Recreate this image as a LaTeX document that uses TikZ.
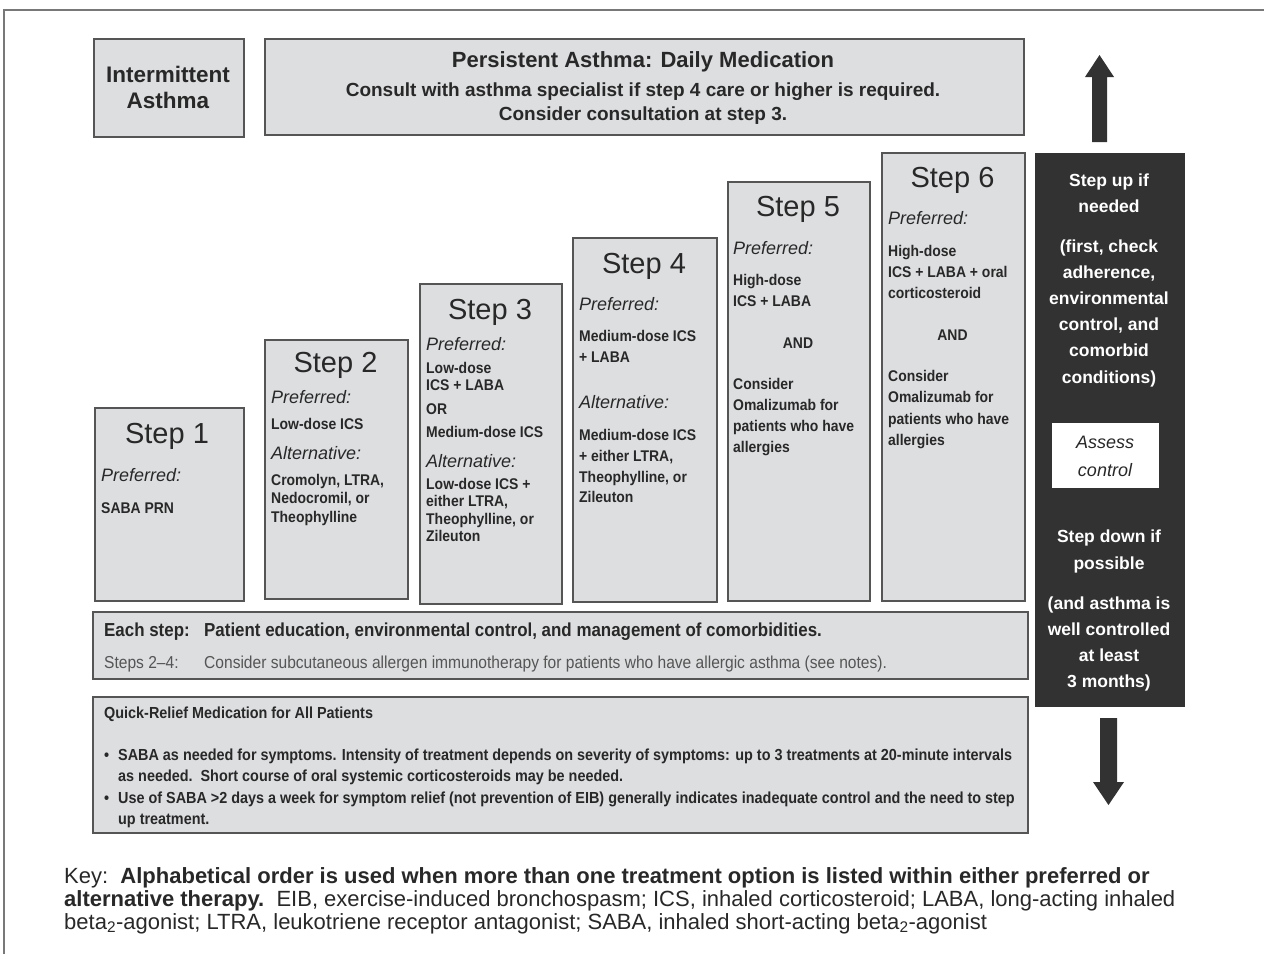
\documentclass[tikz,border=0pt]{standalone}
\usepackage{fontspec}
\setmainfont{Liberation Sans}
\newfontfamily\nfa[FakeStretch=0.9]{Liberation Sans}
\newfontfamily\nfc[FakeStretch=0.82]{Liberation Sans}
\definecolor{boxfill}{RGB}{221,222,224}
\definecolor{boxline}{RGB}{85,85,85}
\definecolor{txt}{RGB}{40,40,40}
\definecolor{darkbox}{RGB}{50,50,50}
\definecolor{frame}{RGB}{120,120,120}
\definecolor{lighttxt}{RGB}{85,85,85}
\tikzset{
  box/.style={draw=boxline, fill=boxfill, line width=1.5pt, inner sep=0pt, anchor=north west},
  tx/.style={inner sep=0pt, text=txt, font={\nfa\bfseries\fontsize{15.5}{18}\selectfont}},
  pref/.style={inner sep=0pt, text=txt, font={\itshape\fontsize{18}{20}\selectfont}},
  steptitle/.style={inner sep=0pt, text=txt, anchor=base, font={\fontsize{29}{32}\selectfont}},
  head/.style={inner sep=0pt, text=txt, anchor=base, font={\bfseries\fontsize{22}{26}\selectfont}},
  sub/.style={inner sep=0pt, text=txt, anchor=base, font={\bfseries\fontsize{19}{22}\selectfont}},
  wt/.style={inner sep=0pt, text=white, anchor=base, font={\bfseries\fontsize{17.5}{20}\selectfont}},
  qr/.style={inner sep=0pt, text=txt, anchor=base west, font={\nfa\bfseries\fontsize{16}{18}\selectfont}},
  key/.style={inner sep=0pt, text=txt, anchor=base west, font={\fontsize{22}{24}\selectfont}},
}
\newcommand\tl[4]{\node[tx,anchor=base west] (#1) at (#2,#3) {#4};}
\newcommand\pl[4]{\node[pref,anchor=base west] (#1) at (#2,#3) {#4};}
\begin{document}
\begin{tikzpicture}[x=1pt,y=-1pt]
\useasboundingbox (0,0) rectangle (1264,954);
\fill[white] (0,0) rectangle (1264,954);
% outer frame
\draw[frame, line width=1.5pt] (4,954) -- (4,10) -- (1264,10);

% header boxes
\node[box, minimum width=150, minimum height=98] (int) at (93,38) {};
\node[inner sep=0pt, text=txt, align=center, font={\bfseries\fontsize{22.5}{26}\selectfont}] (intt) at (168,87) {Intermittent\\Asthma};
\node[box, minimum width=759, minimum height=96] (pers) at (264,38) {};
\node[head] (persa) at (643,67) {Persistent Asthma: Daily Medication};
\node[sub] (persb) at (643,96) {Consult with asthma specialist if step 4 care or higher is required.};
\node[sub] (persc) at (643,120) {Consider consultation at step 3.};

% step boxes
\node[box, minimum width=149, minimum height=193] (b1) at (94,407) {};
\node[box, minimum width=143, minimum height=259] (b2) at (264,339) {};
\node[box, minimum width=142, minimum height=320] (b3) at (419,283) {};
\node[box, minimum width=144, minimum height=364] (b4) at (572,237) {};
\node[box, minimum width=142, minimum height=419] (b5) at (727,181) {};
\node[box, minimum width=143, minimum height=448] (b6) at (881,152) {};

% Step 1
\node[steptitle] (t1) at (167,443) {Step 1};
\pl{p1}{101}{481}{Preferred:}
\tl{s1a}{101}{513}{SABA PRN}

% Step 2
\node[steptitle] (t2) at (335.5,372) {Step 2};
\pl{p2}{271}{403}{Preferred:}
\tl{s2a}{271}{429}{Low-dose ICS}
\pl{a2}{271}{459}{Alternative:}
\tl{s2b}{271}{485}{Cromolyn, LTRA,}
\tl{s2c}{271}{503}{Nedocromil, or}
\tl{s2d}{271}{522}{Theophylline}

% Step 3
\node[steptitle] (t3) at (490,319) {Step 3};
\pl{p3}{426}{350}{Preferred:}
\tl{s3a}{426}{373}{Low-dose}
\tl{s3b}{426}{390}{ICS + LABA}
\tl{s3c}{426}{414}{OR}
\tl{s3d}{426}{437}{Medium-dose ICS}
\pl{a3}{426}{467}{Alternative:}
\tl{s3e}{426}{489}{Low-dose ICS +}
\tl{s3f}{426}{506}{either LTRA,}
\tl{s3g}{426}{524}{Theophylline, or}
\tl{s3h}{426}{541}{Zileuton}

% Step 4
\node[steptitle] (t4) at (644,273) {Step 4};
\pl{p4}{579}{310}{Preferred:}
\tl{s4a}{579}{341}{Medium-dose ICS}
\tl{s4b}{579}{362}{+ LABA}
\pl{a4}{579}{408}{Alternative:}
\tl{s4c}{579}{440}{Medium-dose ICS}
\tl{s4d}{579}{461}{+ either LTRA,}
\tl{s4e}{579}{482}{Theophylline, or}
\tl{s4f}{579}{502}{Zileuton}

% Step 5
\node[steptitle] (t5) at (798,216) {Step 5};
\pl{p5}{733}{254}{Preferred:}
\tl{s5a}{733}{285}{High-dose}
\tl{s5b}{733}{306}{ICS + LABA}
\node[tx, anchor=base] (s5c) at (798,348) {AND};
\tl{s5d}{733}{389}{Consider}
\tl{s5e}{733}{410}{Omalizumab for}
\tl{s5f}{733}{431}{patients who have}
\tl{s5g}{733}{452}{allergies}

% Step 6
\node[steptitle] (t6) at (952.5,187) {Step 6};
\pl{p6}{888}{224}{Preferred:}
\tl{s6a}{888}{256}{High-dose}
\tl{s6b}{888}{277}{ICS + LABA + oral}
\tl{s6c}{888}{298}{corticosteroid}
\node[tx, anchor=base] (s6d) at (952.5,340) {AND};
\tl{s6e}{888}{381}{Consider}
\tl{s6f}{888}{402}{Omalizumab for}
\tl{s6g}{888}{424}{patients who have}
\tl{s6h}{888}{445}{allergies}

% each step band
\node[box, minimum width=935, minimum height=67] (each) at (92,611) {};
\node[inner sep=0pt, text=txt, anchor=base west, font={\nfa\bfseries\fontsize{18.8}{20}\selectfont}] (ea) at (104,636) {Each step:};
\node[inner sep=0pt, text=txt, anchor=base west, font={\nfa\bfseries\fontsize{18.8}{20}\selectfont}] (eb) at (204,636) {Patient education, environmental control, and management of comorbidities.};
\node[inner sep=0pt, text=lighttxt, anchor=base west, font={\nfa\fontsize{17.3}{19}\selectfont}] (ec) at (104,668) {Steps 2–4:};
\node[inner sep=0pt, text=lighttxt, anchor=base west, font={\nfa\fontsize{17.3}{19}\selectfont}] (ed) at (204,668) {Consider subcutaneous allergen immunotherapy for patients who have allergic asthma (see notes).};

% quick relief
\node[box, minimum width=935, minimum height=136] (quick) at (92,696) {};
\node[qr] (qa) at (104,718) {Quick-Relief Medication for All Patients};
\node[qr] (qb0) at (104,760) {•};
\node[qr] (qb) at (118,760) {SABA as needed for symptoms. Intensity of treatment depends on severity of symptoms: up to 3 treatments at 20-minute intervals};
\node[qr] (qc) at (118,781) {as needed.\ \ Short course of oral systemic corticosteroids may be needed.};
\node[qr] (qd0) at (104,803) {•};
\node[qr] (qd) at (118,803) {Use of SABA >2 days a week for symptom relief (not prevention of EIB) generally indicates inadequate control and the need to step};
\node[qr] (qe) at (118,824) {up treatment.};

% dark column
\node[box, draw=darkbox, fill=darkbox, minimum width=148, minimum height=552] (dark) at (1035,153) {};
\node[wt] (w1) at (1109,186) {Step up if};
\node[wt] (w2) at (1109,212) {needed};
\node[wt] (w3) at (1109,252) {(first, check};
\node[wt] (w4) at (1109,278) {adherence,};
\node[wt] (w5) at (1109,304) {environmental};
\node[wt] (w6) at (1109,330) {control, and};
\node[wt] (w7) at (1109,356) {comorbid};
\node[wt] (w8) at (1109,383) {conditions)};
\node[box, draw=white, fill=white, line width=0.5pt, minimum width=106, minimum height=64] (assess) at (1052,423) {};
\node[inner sep=0pt, text=txt, anchor=base, font={\itshape\fontsize{18}{20}\selectfont}] (as1) at (1105,448) {Assess};
\node[inner sep=0pt, text=txt, anchor=base, font={\itshape\fontsize{18}{20}\selectfont}] (as2) at (1105,476) {control};
\node[wt] (w9) at (1109,542) {Step down if};
\node[wt] (w10) at (1109,569) {possible};
\node[wt] (w11) at (1109,609) {(and asthma is};
\node[wt] (w12) at (1109,635) {well controlled};
\node[wt] (w13) at (1109,661) {at least};
\node[wt] (w14) at (1109,687) {3 months)};

% arrows
\fill[darkbox] (1092,142) -- (1092,77) -- (1085,77) -- (1099.5,55) -- (1114,77) -- (1107,77) -- (1107,142) -- cycle;
\fill[darkbox] (1100,718) -- (1100,782) -- (1093,782) -- (1108.5,805) -- (1124,782) -- (1117,782) -- (1117,718) -- cycle;

% key
\node[key] (k1) at (64,883) {Key:\ \ \textbf{Alphabetical order is used when more than one treatment option is listed within either preferred or}};
\node[key] (k2) at (64,906) {\textbf{alternative therapy.}\ \ EIB, exercise-induced bronchospasm; ICS, inhaled corticosteroid; LABA, long-acting inhaled};
\node[key] (k3) at (64,929) {beta\textsubscript{2}-agonist; LTRA, leukotriene receptor antagonist; SABA, inhaled short-acting beta\textsubscript{2}-agonist};
\end{tikzpicture}
\end{document}
